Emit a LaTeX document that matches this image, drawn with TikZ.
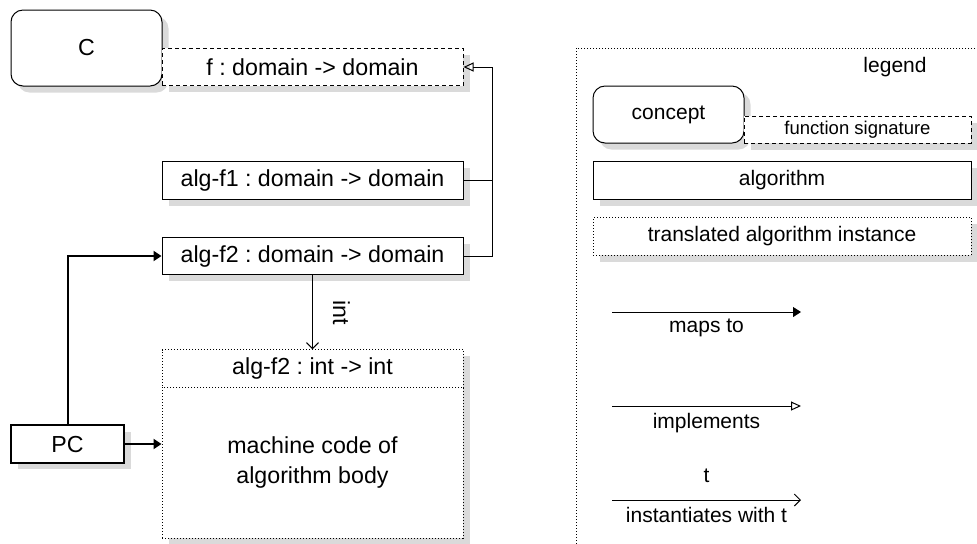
\documentclass[tikz,border=0pt]{standalone}
\usepackage{fontspec}
\setmainfont{Liberation Sans}
\usetikzlibrary{arrows.meta,shadows}
\frenchspacing

\definecolor{shadowgray}{HTML}{DADADA}
\tikzset{
  box/.style={draw, fill=white, line width=0.5pt, inner sep=0pt,
    minimum width=150.5pt, minimum height=18.75pt,
    font=\fontsize{11.6}{15}\selectfont,
    general shadow={fill=shadowgray, shadow xshift=3.25pt, shadow yshift=-3.25pt}},
  sig/.style={box, dash pattern=on 2pt off 1.5pt},
  inst/.style={box, dash pattern=on 0.5pt off 1pt},
  concept/.style={box, rounded corners=6pt},
  legendtext/.style={font=\fontsize{10.5}{12.6}\selectfont},
  mapsto/.style={line width=0.5pt, -{Triangle[length=4pt,width=5pt]}},
  impl/.style={line width=0.5pt, -{Triangle[open,length=5pt,width=4.5pt]}},
  instof/.style={line width=0.5pt, -{Straight Barb[length=3pt,width=6pt]}},
}

\begin{document}
\begin{tikzpicture}[x=0.5pt, y=-0.5pt]
    \useasboundingbox (0,0) rectangle (977,543);

    % concept C with its function
    \node[concept, minimum width=75.5pt, minimum height=38pt] (C) at (86.5,48) {C};
    \node[sig] (fsig) at (312.5,67) {f : domain -> domain};

    % algorithms implementing f
    \node[box] (algf1) at (312.5,180.5) {alg-f1 : domain -> domain};
    \node[box] (algf2) at (312.5,256) {alg-f2 : domain -> domain};

    % instance of alg-f2 for int
    \node[inst] (insthead) at (312.5,368.5) {alg-f2 : int -> int};
    \node[inst, minimum height=75.5pt, align=center] (instbody) at (312.5,462.5) {machine code of\\algorithm body};

    \node[box, line width=1pt, minimum width=56.5pt] (PC) at (67.5,444) {PC};

    \coordinate (bend) at (492,180.5);
    \draw[impl] (algf1) -- (bend) |- (fsig);
    \draw[line width=0.5pt] (algf2) -| (bend);

    \draw[instof] (algf2) -- node[midway, xshift=14.5pt, rotate=-90, font=\fontsize{11.6}{14}\selectfont] (intlabel) {int} (insthead);

    \draw[mapsto, line width=1pt] (PC) -- (PC -| instbody.west);
    \draw[mapsto, line width=1pt] (PC) |- (algf2);

    % legend
    \draw[line width=0.5pt, dash pattern=on 0.5pt off 1pt] (576,48) rectangle (1000,560);
    \node[legendtext] (legend) at (895,67) {legend};

    \node[concept, legendtext, minimum width=75.5pt, minimum height=28.5pt] (lconcept) at (668.5,114.5) {concept};
    \node[sig, minimum width=113.5pt, minimum height=13.5pt, font=\fontsize{9.25}{11}\selectfont] (lsig) at (857.5,129.5) {function signature};
    \node[box, legendtext, minimum width=189pt] (lalg) at (782,180.5) {algorithm};
    \node[inst, legendtext, minimum width=189pt] (linst) at (782,236.5) {translated algorithm instance};

    \coordinate (m1) at (612,312);
    \coordinate (m2) at (801,312);
    \draw[mapsto] (m1) -- node[below, legendtext] (lmaps) {maps to} (m2);

    \coordinate (i1) at (612,406);
    \coordinate (i2) at (801,406);
    \draw[impl] (i1) -- node[below, legendtext] (limpl) {implements} (i2);

    \coordinate (t1) at (612,500);
    \coordinate (t2) at (801,500);
    \draw[instof] (t1) -- node[above=5pt, legendtext] (lt) {t}
        node[below, legendtext] (linstof) {instantiates with t} (t2);
\end{tikzpicture}
\end{document}
